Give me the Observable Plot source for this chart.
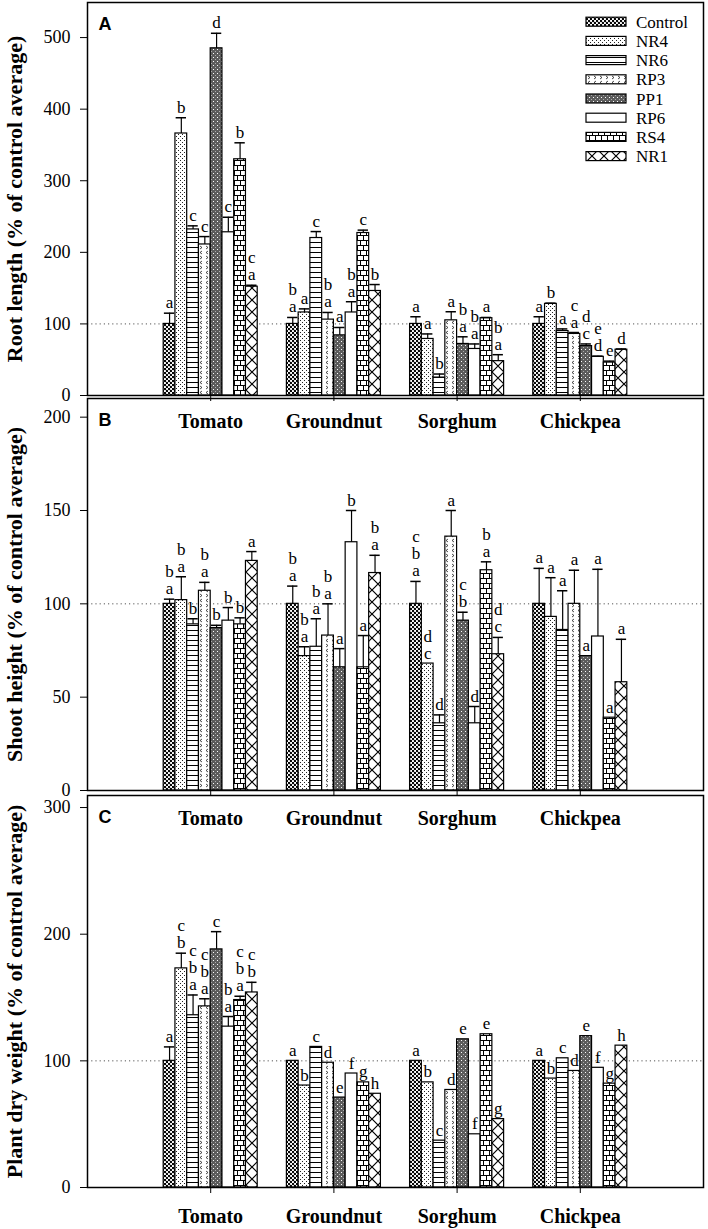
<!DOCTYPE html>
<html><head><meta charset="utf-8">
<script src="https://cdn.jsdelivr.net/npm/d3@7"></script>
<script src="https://cdn.jsdelivr.net/npm/@observablehq/plot@0.6"></script>
<style>
body{margin:0;background:#fff;}
#wrap{position:relative;width:708px;height:1229px;overflow:hidden;background:#fff;}
#wrap svg{position:absolute;left:0;}
</style></head><body>
<div id="wrap">
<svg width="0" height="0" style="position:absolute;top:0;left:0">
<defs>
<pattern id="pat-Control" patternUnits="userSpaceOnUse" width="4" height="4">
  <rect width="4" height="4" fill="#fff"/>
  <circle cx="1" cy="1" r="1.2" fill="#000"/>
  <circle cx="3" cy="3" r="1.2" fill="#000"/>
</pattern>
<pattern id="pat-NR4" patternUnits="userSpaceOnUse" width="4" height="4">
  <rect width="4" height="4" fill="#fff"/>
  <rect x="0" y="0" width="1" height="1" fill="#222"/>
  <rect x="2" y="2" width="1" height="1" fill="#222"/>
</pattern>
<pattern id="pat-NR6" patternUnits="userSpaceOnUse" width="6" height="5">
  <rect width="6" height="5" fill="#fff"/>
  <path d="M0,2.5H6" stroke="#000" stroke-width="1"/>
</pattern>
<pattern id="pat-RP3" patternUnits="userSpaceOnUse" width="6" height="10">
  <rect width="6" height="10" fill="#fff"/>
  <path d="M4,1 L2,2.5 L4,4 M2,6 L4,7.5 L2,9" stroke="#000" stroke-width="0.7" fill="none"/>
</pattern>
<pattern id="pat-PP1" patternUnits="userSpaceOnUse" width="4" height="4">
  <rect width="4" height="4" fill="#5c5c5c"/>
  <rect x="1" y="1" width="1" height="1" fill="#fff"/>
  <rect x="3" y="3" width="1" height="1" fill="#aaa"/>
</pattern>
<pattern id="pat-RP6" patternUnits="userSpaceOnUse" width="4" height="4">
  <rect width="4" height="4" fill="#fff"/>
</pattern>
<pattern id="pat-RS4" patternUnits="userSpaceOnUse" width="6" height="10">
  <rect width="6" height="10" fill="#fff"/>
  <path d="M0,0.5H6 M0,5.5H6 M0.5,0V5.5 M3.5,5.5V10" stroke="#000" stroke-width="1" fill="none"/>
</pattern>
<pattern id="pat-NR1" patternUnits="userSpaceOnUse" width="12" height="12">
  <rect width="12" height="12" fill="#fff"/>
  <path d="M0,0L12,12M12,0L0,12" stroke="#000" stroke-width="1.2"/>
</pattern>
</defs>
</svg>
</div>
<script>
// ---------- data ----------
const crops = ["Tomato", "Groundnut", "Sorghum", "Chickpea"];
const treatments = ["Control", "NR4", "NR6", "RP3", "PP1", "RP6", "RS4", "NR1"];

// Panel A: root length (% of control average), one row per crop
const rootLength = [
  [100, 366, 232, 211, 485, 228, 330, 152],
  [100, 116, 220, 106, 84, 116, 227, 146],
  [100, 79, 25, 105, 72, 65, 108, 48],
  [100, 128, 90, 86, 69, 54, 46, 64]
];
const rootLengthErr = [
  [15, 22, 5, 11, 21, 21, 23, 2],
  [9, 5, 9, 10, 11, 15, 4, 9],
  [10, 7, 5, 12, 10, 7, 1, 9],
  [10, 1, 3, 2, 3, 1, 2, 1]
];
const rootLengthLetters = [
  ["a", "b", "c", "c", "d", "c", "b", "c\na"],
  ["b\na", "a", "c", "b\na", "a", "b\na", "c", "b"],
  ["a", "a", "b", "a", "b\na", "b\na", "a", "b\na"],
  ["a", "b", "a", "c\na", "d\nc", "e\nd", "e", "d"]
];

// Panel B: shoot height
const shootHeight = [
  [100, 102, 89, 107, 87, 91, 89, 123],
  [100, 72, 77, 83, 66, 133, 66, 116.5],
  [100, 68, 36, 136, 91, 36, 118, 73],
  [100, 93, 86, 100, 72, 82.5, 39, 58]
];
const shootHeightErr = [
  [2.5, 12.5, 3, 4.5, 1.5, 7, 3.5, 5],
  [9.5, 5, 15, 17, 10, 17, 17, 9.5],
  [12, 0, 4.5, 14, 4.5, 9, 4.5, 9],
  [19, 21, 21, 18, 0, 36, 0, 23]
];
const shootHeightLetters = [
  ["b\na", "b\na", "b", "b\na", "b", "b", "b", "a"],
  ["b\na", "b\na", "b\na", "b\na", "a", "b", "a", "b\na"],
  ["c\nb\na", "d\nc", "d", "a", "c\nb", "d", "b\na", "d\nc"],
  ["a", "a", "a", "a", "a", "a", "a", "a"]
];

// Panel C: plant dry weight
const dryWeight = [
  [100, 173, 136, 143, 188, 127, 148, 154],
  [100, 80.5, 111, 98.5, 71, 90, 83, 74],
  [100, 83, 37, 77, 117, 42, 121, 54],
  [100, 86, 102, 92, 119.5, 94.5, 82, 112]
];
const dryWeightErr = [
  [11, 12, 16, 6, 14, 8, 3, 8],
  [0, 0, 0, 0, 0, 0, 0, 0],
  [0, 0, 0, 0, 0, 0, 0, 0],
  [0, 0, 0, 0, 0, 0, 0, 0]
];
const dryWeightLetters = [
  ["a", "c\nb", "c\nb\na", "c\nb\na", "c", "b\na", "c\nb\na", "c\nb"],
  ["a", "b", "c", "d", "e", "f", "g", "h"],
  ["a", "b", "c", "d", "e", "f", "e", "g"],
  ["a", "b", "c", "d", "e", "f", "g", "h"]
];

// ---------- layout ----------
const SERIF = "'Liberation Serif','Times New Roman',serif";
const SANS = "'Liberation Sans',Arial,sans-serif";
const BW = 0.0954;   // bar width in x units
const CAP = 0.042;   // half cap width

function table(values, errs, letters) {
  const rows = [];
  crops.forEach((c, gi) => treatments.forEach((t, si) => {
    const x1 = gi + 1 + (si - 4) * BW;
    rows.push({
      crop: c, treatment: t,
      value: values[gi][si], err: errs[gi][si], letter: letters[gi][si],
      x1, x2: x1 + BW, xc: x1 + BW / 2,
      top: values[gi][si] + errs[gi][si]
    });
  }));
  return rows;
}

function panel(o) {
  const rows = table(o.values, o.errs, o.letters);
  const withErr = rows.filter(d => d.err > 0);
  const svg = Plot.plot({
    width: 708, height: o.height,
    marginLeft: 87, marginRight: 5, marginTop: o.mTop, marginBottom: o.mBottom,
    style: {background: "none", fontFamily: SERIF, overflow: "visible"},
    x: {type: "linear", domain: [0, 5]},
    y: {domain: [0, o.yMax]},
    color: {type: "identity"},
    marks: [
      Plot.ruleY([100], {stroke: "#555", strokeDasharray: "1.2,3", strokeWidth: 1}),
      Plot.rect(rows, {x1: "x1", x2: "x2", y1: 0, y2: "value",
        fill: d => `url(#pat-${d.treatment})`, stroke: "black", strokeWidth: 1.2}),
      Plot.ruleX(withErr, {x: "xc", y1: "value", y2: "top", stroke: "black", strokeWidth: 1.2}),
      Plot.ruleY(withErr, {y: "top", x1: d => d.xc - CAP, x2: d => d.xc + CAP, stroke: "black", strokeWidth: 1.5}),
      Plot.text(rows, {x: "xc", y: "top", text: "letter", lineAnchor: "bottom", dy: -5,
        fontSize: 17, lineHeight: 1.0, fill: "black"}),
      Plot.frame({stroke: "black", strokeWidth: 1.5}),
      Plot.axisY({ticks: o.yTicks, tickSize: 7, tickPadding: 10, fontSize: 18, label: null}),
      Plot.axisX({ticks: [1, 2, 3, 4], tickFormat: i => crops[i - 1], tickSize: 6,
        tickPadding: o.xPad, fontSize: 20, fontWeight: "bold", label: null}),
      Plot.text([o.title], {text: d => d, frameAnchor: "left", rotate: -90, dx: -73,
        textAnchor: "middle", lineAnchor: "middle", fontSize: 22, fontWeight: "bold"}),
      Plot.text([o.tag], {text: d => d, frameAnchor: "top-left", dx: 11, dy: 15,
        textAnchor: "start", lineAnchor: "top", fontFamily: SANS, fontWeight: "bold", fontSize: 18})
    ]
  });
  svg.style.top = o.top + "px";
  svg.style.position = "absolute";
  svg.style.left = "0px";
  document.getElementById("wrap").appendChild(svg);
}

panel({values: rootLength, errs: rootLengthErr, letters: rootLengthLetters,
  yMax: 549, yTicks: [0, 100, 200, 300, 400, 500],
  title: "Root length (% of control average)", tag: "A",
  top: 0, height: 430, mTop: 2, mBottom: 35, xPad: 12});
panel({values: shootHeight, errs: shootHeightErr, letters: shootHeightLetters,
  yMax: 210, yTicks: [0, 50, 100, 150, 200],
  title: "Shoot height (% of control average)", tag: "B",
  top: 398, height: 430, mTop: 0, mBottom: 38, xPad: 14});
panel({values: dryWeight, errs: dryWeightErr, letters: dryWeightLetters,
  yMax: 309.5, yTicks: [0, 100, 200, 300],
  title: "Plant dry weight (% of control average)", tag: "C",
  top: 795, height: 434, mTop: 0, mBottom: 42, xPad: 15});

// ---------- legend (panel A, top right) ----------
const ns = "http://www.w3.org/2000/svg";
const leg = document.createElementNS(ns, "svg");
leg.setAttribute("width", 120); leg.setAttribute("height", 170);
leg.style.left = "580px"; leg.style.top = "0px"; leg.style.position = "absolute";
treatments.forEach((t, i) => {
  const cy = 21.7 + i * 19.2;
  const r = document.createElementNS(ns, "rect");
  r.setAttribute("x", 6); r.setAttribute("y", cy - 4.5);
  r.setAttribute("width", 40); r.setAttribute("height", 9);
  r.setAttribute("fill", `url(#pat-${t})`); r.setAttribute("stroke", "black"); r.setAttribute("stroke-width", 1.2);
  leg.appendChild(r);
  const tx = document.createElementNS(ns, "text");
  tx.setAttribute("x", 56); tx.setAttribute("y", cy + 6);
  tx.setAttribute("font-family", SERIF); tx.setAttribute("font-size", 17);
  tx.textContent = t;
  leg.appendChild(tx);
});
document.getElementById("wrap").appendChild(leg);
</script>
</body></html>
